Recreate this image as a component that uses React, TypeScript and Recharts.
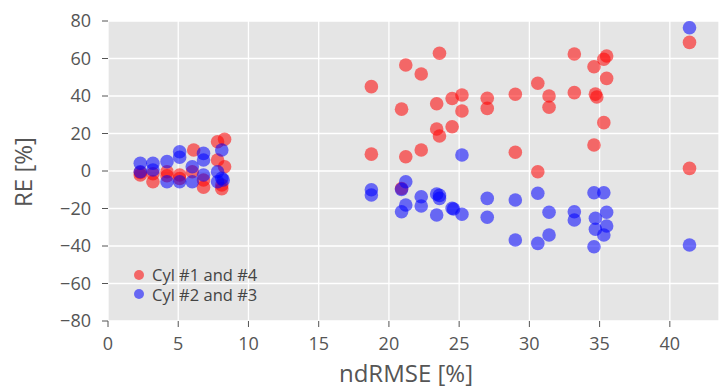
import React from "react";
import { ScatterChart, Scatter, XAxis, YAxis, CartesianGrid, ZAxis } from "recharts";

const seriesNames = ["Cyl #1 and #4", "Cyl #2 and #3"];
const seriesColors = ["#FF0000", "#0000FF"];

const xTicks = [0, 5, 10, 15, 20, 25, 30, 35, 40];
const yTicks = [-80, -60, -40, -20, 0, 20, 40, 60, 80];

const cyl14 = [
  { x: 2.3, y: -2.1 }, { x: 2.3, y: -0.8 },
  { x: 3.2, y: -1.5 }, { x: 3.2, y: -5.7 },
  { x: 4.2, y: -0.4 }, { x: 4.2, y: -2.5 },
  { x: 5.1, y: -2.1 }, { x: 5.1, y: -4.0 },
  { x: 6.0, y: -0.4 }, { x: 6.1, y: 11.2 },
  { x: 6.8, y: -4.8 }, { x: 6.8, y: -8.7 },
  { x: 7.8, y: 15.6 }, { x: 7.8, y: 5.9 },
  { x: 8.3, y: 16.9 }, { x: 8.3, y: 2.3 },
  { x: 8.1, y: -7.5 }, { x: 8.1, y: -9.5 },
  { x: 18.75, y: 45 }, { x: 18.75, y: 9 },
  { x: 20.9, y: 33 }, { x: 20.9, y: -9.3 },
  { x: 21.2, y: 56.5 }, { x: 21.2, y: 7.6 },
  { x: 22.3, y: 51.7 }, { x: 22.3, y: 11.2 },
  { x: 23.4, y: 35.9 }, { x: 23.4, y: 22.4 },
  { x: 23.6, y: 62.8 }, { x: 23.6, y: 18.7 },
  { x: 24.5, y: 38.7 }, { x: 24.5, y: 23.6 },
  { x: 25.2, y: 40.5 }, { x: 25.2, y: 32 },
  { x: 27.0, y: 38.8 }, { x: 27.0, y: 33.4 },
  { x: 29.0, y: 40.9 }, { x: 29.0, y: 10 },
  { x: 30.6, y: 46.8 }, { x: 30.6, y: -0.4 },
  { x: 31.4, y: 40 }, { x: 31.4, y: 34 },
  { x: 33.2, y: 62.4 }, { x: 33.2, y: 41.8 },
  { x: 34.6, y: 55.6 }, { x: 34.6, y: 13.9 },
  { x: 34.7, y: 41 }, { x: 34.8, y: 39.5 },
  { x: 35.3, y: 59.6 }, { x: 35.3, y: 25.8 },
  { x: 35.5, y: 61.3 }, { x: 35.5, y: 49.4 },
  { x: 41.4, y: 68.6 }, { x: 41.4, y: 1.4 },
];

const cyl23 = [
  { x: 2.3, y: 4.1 }, { x: 2.3, y: -0.4 },
  { x: 3.2, y: 4.1 }, { x: 3.2, y: 0.5 },
  { x: 4.2, y: 5 }, { x: 4.2, y: -5.7 },
  { x: 5.1, y: 10.3 }, { x: 5.1, y: 7.3 }, { x: 5.1, y: -5.7 },
  { x: 6.0, y: 2.3 }, { x: 6.0, y: -5.7 },
  { x: 6.8, y: 9.4 }, { x: 6.8, y: 5.9 }, { x: 6.8, y: -2.1 },
  { x: 7.8, y: -0.4 }, { x: 7.8, y: -5.7 },
  { x: 8.1, y: 11.2 }, { x: 8.1, y: -3.9 }, { x: 8.2, y: -4.8 },
  { x: 18.75, y: -10 }, { x: 18.75, y: -12.8 },
  { x: 20.9, y: -9.8 }, { x: 20.9, y: -21.7 },
  { x: 21.2, y: -5.7 }, { x: 21.2, y: -18.1 },
  { x: 22.3, y: -13.7 }, { x: 22.3, y: -18.7 },
  { x: 23.4, y: -12.3 }, { x: 23.4, y: -23.5 },
  { x: 23.6, y: -14.6 }, { x: 23.6, y: -13 },
  { x: 24.5, y: -19.9 }, { x: 24.6, y: -20.3 },
  { x: 25.2, y: 8.5 }, { x: 25.2, y: -23.1 },
  { x: 27.0, y: -14.6 }, { x: 27.0, y: -24.7 },
  { x: 29.0, y: -15.5 }, { x: 29.0, y: -36.8 },
  { x: 30.6, y: -11.9 }, { x: 30.6, y: -38.6 },
  { x: 31.4, y: -22 }, { x: 31.4, y: -34.1 },
  { x: 33.2, y: -21.7 }, { x: 33.2, y: -26.1 },
  { x: 34.6, y: -11.6 }, { x: 34.6, y: -40.4 },
  { x: 34.7, y: -25.2 }, { x: 34.7, y: -31.1 },
  { x: 35.3, y: -11.6 }, { x: 35.3, y: -34.1 },
  { x: 35.5, y: -22 }, { x: 35.5, y: -29.3 },
  { x: 41.4, y: 76.4 }, { x: 41.4, y: -39.5 },
];

const FONT = "'Open Sans', 'Noto Sans', sans-serif";
const TEXT = "#555555";

const makeDot = (color: string) => (props: any) => (
  <circle cx={props.cx} cy={props.cy} r={6.8} fill={color} fillOpacity={0.55} stroke="none" />
);

const fmt = (v: number) => (v < 0 ? "\u2212" + Math.abs(v) : String(v));

export default function App() {
  return (
    <div style={{ position: "absolute", left: 0, top: 0, width: 719, height: 387, background: "#fff", fontFamily: FONT, overflow: "hidden" }}>
      <ScatterChart width={719} height={387} margin={{ top: 21, right: 0, bottom: 0, left: 0 }}>
        <CartesianGrid stroke="#FFFFFF" strokeWidth={1.3} fill="#E5E5E5" fillOpacity={1} />
        <XAxis
          type="number"
          dataKey="x"
          domain={[0, 43.5]}
          ticks={xTicks}
          allowDataOverflow
          height={66}
          axisLine={false}
          tickSize={6}
          tickMargin={10}
          tickLine={{ stroke: TEXT, strokeWidth: 1 }}
          tick={{ fill: TEXT, fontSize: 18, fontFamily: FONT }}
          label={{
            content: () => (
              <text x={406} y={382} textAnchor="middle" fontSize={24} fill={TEXT} fontFamily={FONT}>
                ndRMSE [%]
              </text>
            ),
          }}
        />
        <YAxis
          type="number"
          dataKey="y"
          domain={[-80, 80]}
          ticks={yTicks}
          allowDataOverflow
          width={108}
          axisLine={false}
          tickSize={6}
          tickMargin={11}
          tickFormatter={fmt}
          tickLine={{ stroke: TEXT, strokeWidth: 1 }}
          tick={{ fill: TEXT, fontSize: 18, fontFamily: FONT }}
          label={{
            content: () => (
              <text
                x={32}
                y={172}
                transform="rotate(-90 32 172)"
                textAnchor="middle"
                fontSize={24}
                fill={TEXT}
                fontFamily={FONT}
              >
                RE [%]
              </text>
            ),
          }}
        />
        <ZAxis range={[145, 145]} />
        <Scatter name={seriesNames[0]} data={cyl14} shape={makeDot(seriesColors[0])} isAnimationActive={false} />
        <Scatter name={seriesNames[1]} data={cyl23} shape={makeDot(seriesColors[1])} isAnimationActive={false} />
      </ScatterChart>
      <div style={{ position: "absolute", left: 133, top: 265, fontFamily: FONT, fontSize: 16.5, lineHeight: "19.5px", color: "#444" }}>
        {seriesNames.map((n, i) => (
          <div key={n} style={{ display: "flex", alignItems: "center", height: 19.5, lineHeight: "19.5px", whiteSpace: "nowrap" }}>
            <svg width={12} height={12} style={{ marginRight: 7, flex: "none" }}>
              <circle cx={6} cy={6} r={5} fill={seriesColors[i]} fillOpacity={0.55} />
            </svg>
            <span style={{ lineHeight: "19.5px" }}>{n}</span>
          </div>
        ))}
      </div>
    </div>
  );
}
